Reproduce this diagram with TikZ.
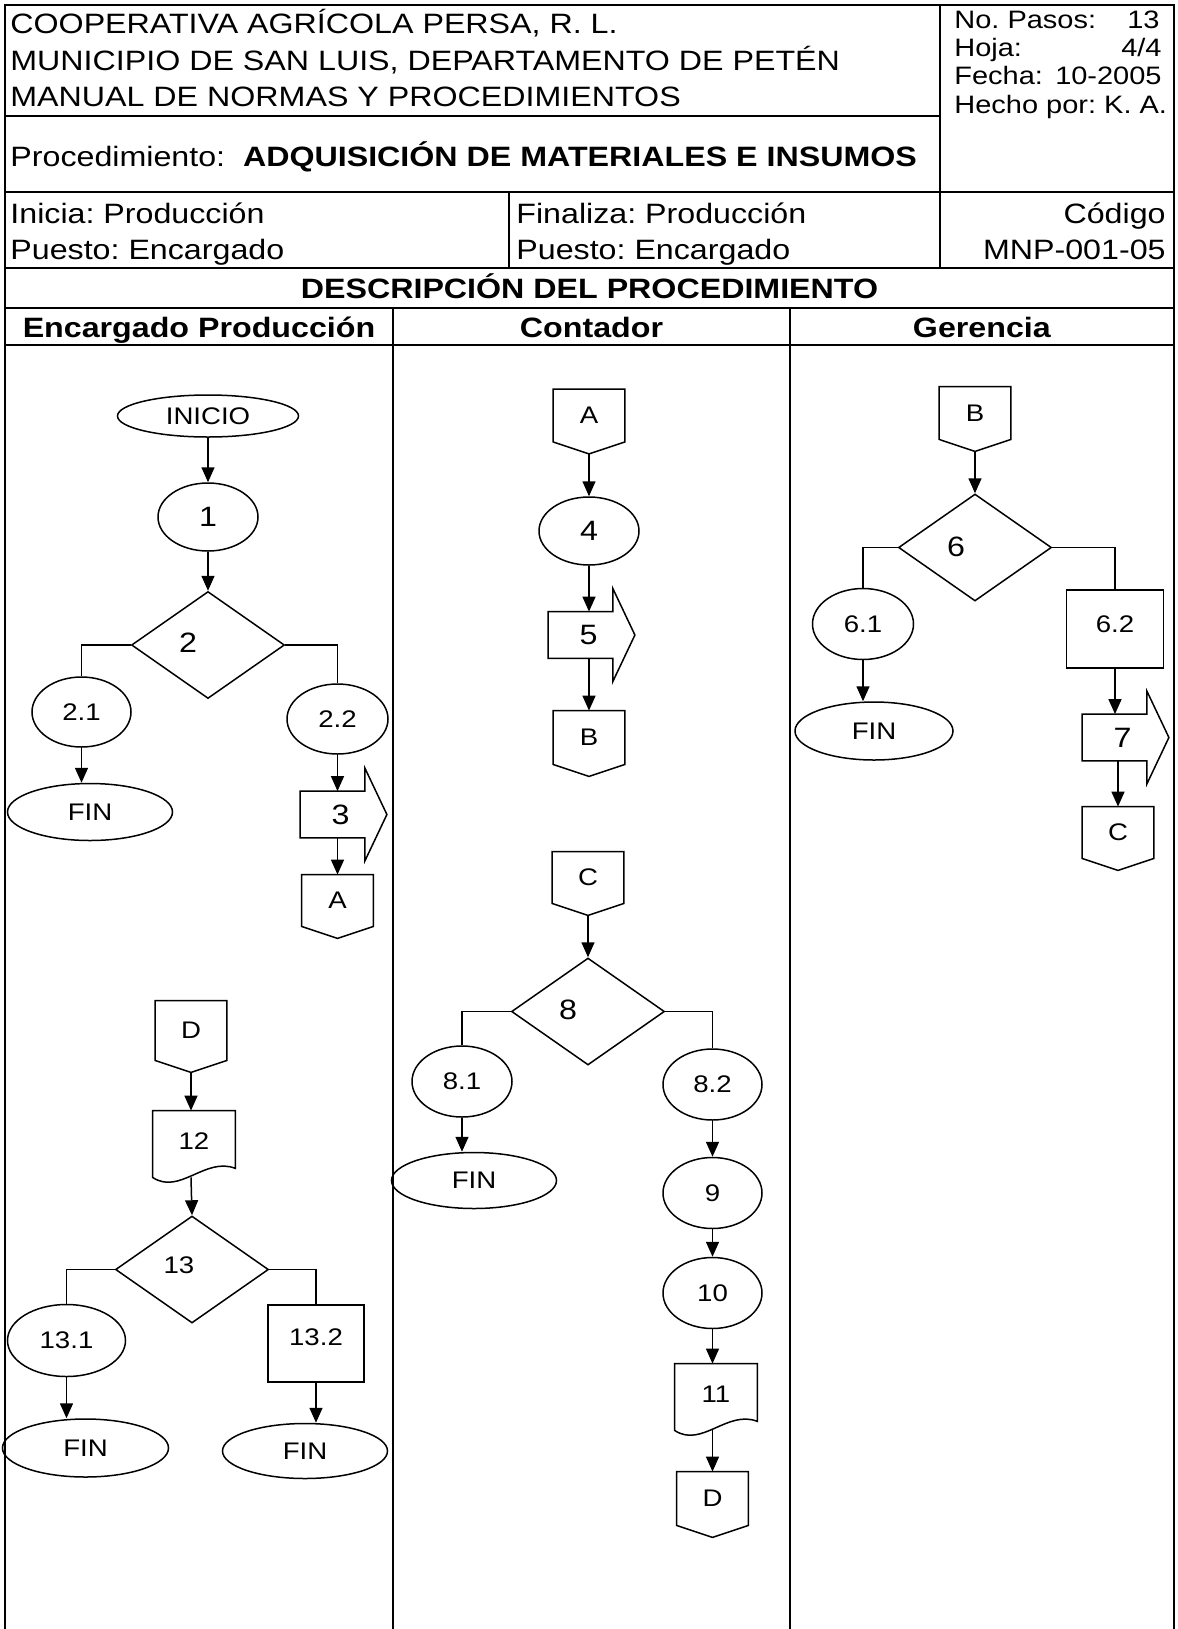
\documentclass[tikz,border=0pt]{standalone}
\usepackage{fontspec}
\setmainfont{Liberation Sans}[FakeStretch=1.15]
\usetikzlibrary{shapes.geometric,arrows.meta,calc}
\frenchspacing

\tikzset{
  tblline/.style={line width=1pt},
  outl/.style={draw, line width=0.75pt},
  termshape/.style={outl, ellipse, inner sep=0pt},
  decshape/.style={outl, diamond, inner sep=0pt, minimum width=76.5pt, minimum height=53.5pt},
  boxshape/.style={outl, rectangle, inner sep=0pt},
  blankshape/.style={rectangle, inner sep=0pt},
  smalltxt/.style={font=\fontsize{12}{14}\selectfont},
  bigtxt/.style={font=\fontsize{14}{16}\selectfont},
  hdr/.style={font=\fontsize{14}{17}\selectfont, inner sep=0pt},
  hdrsmall/.style={font=\fontsize{12.6}{15}\selectfont, inner sep=0pt},
  flow/.style={line width=0.75pt, -{Triangle[length=7.5pt,width=6.5pt]}},
  branch/.style={line width=0.6pt},
}

% off-page connector: name, body centre, letter, body height (pt)
\newcommand{\offconn}[4]{%
  \node[blankshape, smalltxt, minimum width=35.5pt, minimum height=#4] (#1) at (#2) {#3};
  \coordinate (#1-tip) at ($(#1.south)+(0,12)$);
  \draw[line width=0.75pt] (#1.north west) -- (#1.north east) -- (#1.south east)
     -- (#1-tip) -- (#1.south west) -- cycle;
}
% block arrow pointing right: name, body centre, label
\newcommand{\procarrow}[3]{%
  \node[blankshape, bigtxt, minimum width=32pt, minimum height=23pt] (#1) at (#2) {\hspace*{8pt}#3};
  \draw[line width=0.75pt] (#1.north west) -- (#1.north east) -- ($(#1.north east)+(0,-23)$)
     -- ($(#1.east)+(22,0)$) -- ($(#1.south east)+(0,23)$) -- (#1.south east)
     -- (#1.south west) -- cycle;
}
% document symbol with wavy lower edge: name, centre, label
\newcommand{\docshape}[3]{%
  \node[blankshape, smalltxt, minimum width=41pt, minimum height=33pt] (#1) at (#2) {\raisebox{3pt}{#3}};
  \draw[line width=0.75pt] (#1.south west) -- (#1.north west) -- (#1.north east)
     -- ($(#1.south east)+(0,-9)$) .. controls +(-30,-12) and +(27,18) .. (#1.south west) -- cycle;
}

\begin{document}
\begin{tikzpicture}[x=0.5pt, y=-0.5pt]
\fill[white] (0,0) rectangle (1178,1629);
\useasboundingbox (0,0) rectangle (1178,1629);

% ---------- form grid ----------
\draw[tblline] (5,1629) -- (5,5) -- (1174,5) -- (1174,1629);
\draw[tblline] (5,116) -- (940,116);
\draw[tblline] (940,5) -- (940,268);
\draw[tblline] (5,192) -- (1174,192);
\draw[tblline] (509,192) -- (509,268);
\draw[tblline] (5,268) -- (1174,268);
\draw[tblline] (5,308) -- (1174,308);
\draw[tblline] (5,345) -- (1174,345);
\draw[tblline] (393,308) -- (393,1629);
\draw[tblline] (790,308) -- (790,1629);

% ---------- header texts ----------
\node[hdr, anchor=base west] (h1) at (10,33) {COOPERATIVA AGRÍCOLA PERSA, R. L.};
\node[hdr, anchor=base west] (h2) at (10,70) {MUNICIPIO DE SAN LUIS, DEPARTAMENTO DE PETÉN};
\node[hdr, anchor=base west] (h3) at (10,106) {MANUAL DE NORMAS Y PROCEDIMIENTOS};
\node[hdr, anchor=base west] (h4) at (10,166) {Procedimiento:\ \ \textbf{ADQUISICIÓN DE MATERIALES E INSUMOS}};

\node[hdrsmall, anchor=base west] (r1a) at (954,28) {No. Pasos:};
\node[hdrsmall, anchor=base east] (r1b) at (1160,28) {13};
\node[hdrsmall, anchor=base west] (r2a) at (954,56) {Hoja:};
\node[hdrsmall, anchor=base east] (r2b) at (1162,56) {4/4};
\node[hdrsmall, anchor=base west] (r3a) at (954,84) {Fecha:};
\node[hdrsmall, anchor=base east] (r3b) at (1162,84) {10-2005};
\node[hdrsmall, anchor=base west] (r4a) at (954,113) {Hecho por: K. A.};

\node[hdr, anchor=base west] (i1) at (10,223) {Inicia: Producción};
\node[hdr, anchor=base west] (i2) at (10,259) {Puesto: Encargado};
\node[hdr, anchor=base west] (f1t) at (516,223) {Finaliza: Producción};
\node[hdr, anchor=base west] (f2t) at (516,259) {Puesto: Encargado};
\node[hdr, anchor=base east] (c1) at (1166,223) {Código};
\node[hdr, anchor=base east] (c2) at (1166,259) {MNP-001-05};

\node[hdr, anchor=base] (desc) at (589.5,298) {\textbf{DESCRIPCIÓN DEL PROCEDIMIENTO}};
\node[hdr, anchor=base] (col1) at (199,337) {\textbf{Encargado Producción}};
\node[hdr, anchor=base] (col2) at (591.5,337) {\textbf{Contador}};
\node[hdr, anchor=base] (col3) at (982,337) {\textbf{Gerencia}};

% ---------- Encargado Producción, first part ----------
\node[termshape, smalltxt, minimum width=90.5pt, minimum height=21pt] (ini) at (208,416) {INICIO};
\node[termshape, bigtxt, minimum width=50pt, minimum height=34pt] (e1) at (208,517) {1};
\node[decshape] (d2) at (208,645) {};
\node[bigtxt] (d2l) at (188,643) {2};
\node[termshape, smalltxt, minimum width=49.5pt, minimum height=35pt] (e21) at (81.5,712) {2.1};
\node[termshape, smalltxt, minimum width=82.5pt, minimum height=28.5pt] (fin1) at (90,812) {FIN};
\node[termshape, smalltxt, minimum width=50.5pt, minimum height=35pt] (e22) at (337.5,719) {2.2};
\procarrow{p3}{332.5,814.5}{3}
\offconn{a1}{337.5,900.5}{A}{25.5pt}

\draw[flow] (ini.south) -- (e1.north);
\draw[flow] (e1.south) -- (d2.north);
\draw[branch] (d2.west) -| (e21.north);
\draw[branch] (d2.east) -| (e22.north);
\draw[flow] (e21.south) -- (e21.south |- fin1.north);
\draw[flow] (e22.south) -- (e22.south |- p3.north);
\draw[flow] (a1.north |- p3.south) -- (a1.north);

% ---------- Contador, first part ----------
\offconn{ca}{589,415.5}{A}{26pt}
\node[termshape, bigtxt, minimum width=50pt, minimum height=34pt] (e4) at (589,531) {4};
\procarrow{p5}{580.5,635}{5}
\offconn{cb}{589,737.5}{B}{26.5pt}

\draw[flow] (ca-tip) -- (e4.north);
\draw[flow] (e4.south) -- (e4.south |- p5.north);
\draw[flow] (cb.north |- p5.south) -- (cb.north);

% ---------- Gerencia ----------
\offconn{gb}{975,413}{B}{26pt}
\node[decshape] (d6) at (975,547.5) {};
\node[bigtxt] (d6l) at (956,547) {6};
\node[termshape, smalltxt, minimum width=50.5pt, minimum height=35.5pt] (e61) at (863,624) {6.1};
\node[termshape, smalltxt, minimum width=79pt, minimum height=29pt] (fin2) at (874,731) {FIN};
\node[boxshape, smalltxt, minimum width=48.5pt, minimum height=39pt] (r62) at (1115,629) {\raisebox{4.5pt}{6.2}};
\procarrow{p7}{1114.5,737.5}{7}
\offconn{gc}{1118,832.5}{C}{25.5pt}

\draw[flow] (gb-tip) -- (d6.north);
\draw[branch] (d6.west) -| (e61.north);
\draw[branch] (d6.east) -| (r62.north);
\draw[flow] (e61.south) -- (e61.south |- fin2.north);
\draw[flow] (r62.south) -- (r62.south |- p7.north);
\draw[flow] (gc.north |- p7.south) -- (gc.north);

% ---------- Contador, second part ----------
\offconn{cc}{588,877.5}{C}{25.5pt}
\node[decshape] (d8) at (588,1011.5) {};
\node[bigtxt] (d8l) at (568,1010) {8};
\node[termshape, smalltxt, minimum width=50pt, minimum height=35.5pt] (e81) at (462,1081.5) {8.1};
\node[termshape, smalltxt, minimum width=82.5pt, minimum height=28pt] (fin3) at (474,1180.5) {FIN};
\node[termshape, smalltxt, minimum width=49.5pt, minimum height=35.5pt] (e82) at (712.5,1084.5) {8.2};
\node[termshape, smalltxt, minimum width=49.5pt, minimum height=35.5pt] (e9) at (712.5,1193) {9};
\node[termshape, smalltxt, minimum width=49.5pt, minimum height=35.5pt] (e10) at (712.5,1293) {10};
\docshape{dc11}{716,1397}{11}
\offconn{cd}{712.5,1498.5}{D}{26.5pt}

\draw[flow] (cc-tip) -- (d8.north);
\draw[branch] (d8.west) -| (e81.north);
\draw[branch] (d8.east) -| (e82.north);
\draw[flow] (e81.south) -- (e81.south |- fin3.north);
\draw[flow] (e82.south) -- (e9.north);
\draw[flow] (e9.south) -- (e10.north);
\draw[flow] (e10.south) -- (e10.south |- dc11.north);
\draw[flow] (cd.north |- dc11.south) -- (cd.north);

% ---------- Encargado Producción, second part ----------
\offconn{ed}{191,1030.5}{D}{29.5pt}
\docshape{dc12}{194,1144}{12}
\node[decshape] (d13) at (192,1269.5) {};
\node[smalltxt] (d13l) at (179,1265) {13};
\node[termshape, smalltxt, minimum width=59pt, minimum height=36pt] (e131) at (66.5,1340.5) {13.1};
\node[termshape, smalltxt, minimum width=83pt, minimum height=29pt] (fin4) at (85.5,1448) {FIN};
\node[boxshape, smalltxt, minimum width=48pt, minimum height=38.5pt] (r132) at (316,1343.5) {\raisebox{6pt}{13.2}};
\node[termshape, smalltxt, minimum width=82.5pt, minimum height=27.5pt] (fin5) at (305,1451) {FIN};

\draw[flow] (ed-tip) -- (ed-tip |- dc12.north);
\draw[flow] (ed-tip |- dc12.south) -- (d13.north);
\draw[branch] (d13.west) -| (e131.north);
\draw[branch] (d13.east) -| (r132.north);
\draw[flow] (e131.south) -- (e131.south |- fin4.north);
\draw[flow] (r132.south) -- (r132.south |- fin5.north);
\end{tikzpicture}
\end{document}
